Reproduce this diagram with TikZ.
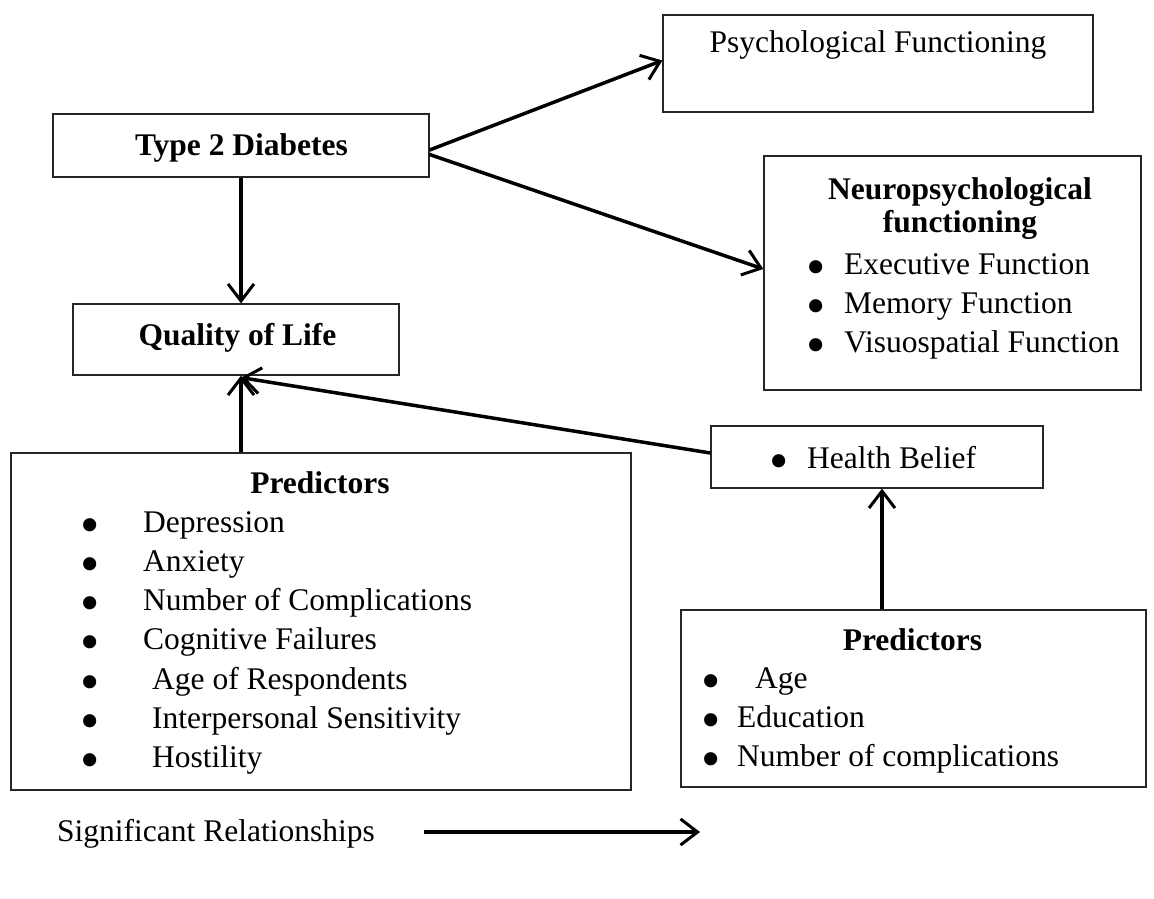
\documentclass[tikz,border=0pt]{standalone}
\usepackage{fontspec}
\usepackage{graphicx}
\setmainfont{Liberation Serif}
\usetikzlibrary{arrows.meta,calc}
\newcommand\bul{\smash{\raisebox{-11pt}{\scalebox{1.75}{\textbullet}}}}
\begin{document}
\begin{tikzpicture}[x=1pt,y=-1pt,
  box/.style={draw=black!85,line width=1.2pt,rectangle,inner sep=0pt},
  txt/.style={inner sep=0pt,font=\fontsize{31.5}{39}\selectfont},
  btxt/.style={inner sep=0pt,font=\fontsize{31.5}{39}\selectfont\bfseries},
  item/.style={txt,anchor=base west},
  arr/.style={line width=3.5pt,-{Straight Barb[length=17pt,width=26pt,line width=3pt]}}]
\useasboundingbox (0,0) rectangle (1154,899);

% boxes
\node[box,minimum width=430pt,minimum height=97pt] (psy) at (878,63.5) {};
\node[box,minimum width=376pt,minimum height=63pt] (t2d) at (241,145.5) {};
\node[box,minimum width=326pt,minimum height=71pt] (qol) at (236,339.5) {};
\node[box,minimum width=377pt,minimum height=234pt] (neuro) at (952.5,273) {};
\node[box,minimum width=332pt,minimum height=62pt] (hb) at (877,457) {};
\node[box,minimum width=620pt,minimum height=337pt] (p1) at (321,621.5) {};
\node[box,minimum width=465pt,minimum height=177pt] (p2) at (913.5,698.5) {};

% texts
\node[btxt,anchor=base] (t2dt) at (241.5,155) {Type 2 Diabetes};
\node[btxt,anchor=base] (qolt) at (237.5,345) {Quality of Life};
\node[txt,anchor=base] (psyt) at (878,53) {Psychological Functioning};

\node[btxt,anchor=base] (neut1) at (960,199) {Neuropsychological};
\node[btxt,anchor=base] (neut2) at (960,232) {functioning};
\node[item] (neua) at (806,274) {\makebox[38pt][l]{\bul}Executive Function};
\node[item] (neub) at (806,313) {\makebox[38pt][l]{\bul}Memory Function};
\node[item] (neuc) at (806,352) {\makebox[38pt][l]{\bul}Visuospatial Function};

\node[item] (hbt) at (769,468) {\makebox[38pt][l]{\bul}Health Belief};

\node[btxt,anchor=base] (p1t) at (320,493) {Predictors};
\node[item] (p1a) at (80,532) {\makebox[63pt][l]{\bul}Depression};
\node[item] (p1b) at (80,571) {\makebox[63pt][l]{\bul}Anxiety};
\node[item] (p1c) at (80,610) {\makebox[63pt][l]{\bul}Number of Complications};
\node[item] (p1d) at (80,649) {\makebox[63pt][l]{\bul}Cognitive Failures};
\node[item] (p1e) at (80,689) {\makebox[72pt][l]{\bul}Age of Respondents};
\node[item] (p1f) at (80,728) {\makebox[72pt][l]{\bul}Interpersonal Sensitivity};
\node[item] (p1g) at (80,767) {\makebox[72pt][l]{\bul}Hostility};

\node[btxt,anchor=base] (p2t) at (912.5,650) {Predictors};
\node[item] (p2a) at (701,688) {\makebox[54pt][l]{\bul}Age};
\node[item] (p2b) at (701,727) {\makebox[36pt][l]{\bul}Education};
\node[item] (p2c) at (701,766) {\makebox[36pt][l]{\bul}Number of complications};

% connectors
\draw[arr] (t2d.south) -- (t2d.south |- qol.north);
\draw[arr] ([yshift=-4.5pt]t2d.east) -- ([yshift=3pt]psy.west);
\draw[arr] ([yshift=-9pt]t2d.east) -- ([yshift=4pt]neuro.west);
\coordinate (qolin) at ([xshift=5pt,yshift=-2pt]qol.south);
\draw[arr] ([yshift=4pt]hb.west) -- (qolin);
\draw[arr] (p1.north -| t2d.south) -- (qol.south -| t2d.south);
\coordinate (hbin) at ([xshift=5pt]hb.south);
\draw[arr] (p2.north -| hbin) -- (hbin);

% legend
\node[txt,anchor=base west] (leg) at (57,841) {Significant Relationships};
\coordinate (legA) at (424,832);
\coordinate (legB) at (700,832);
\draw[arr] (legA) -- (legB);
\end{tikzpicture}
\end{document}
